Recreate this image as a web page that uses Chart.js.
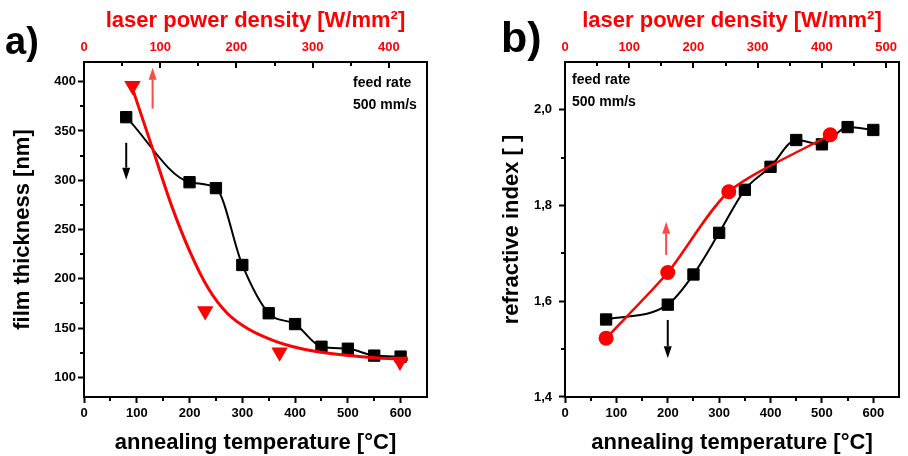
<!DOCTYPE html>
<html>
<head>
<meta charset="utf-8">
<script src="https://cdn.jsdelivr.net/npm/chart.js@4.4.1/dist/chart.umd.min.js"></script>
<style>
  body { margin: 0; background: #fff; }
  #wrap { position: relative; width: 908px; height: 456px; }
  canvas { position: absolute; top: 0; }
  #chartA { left: 0; }
  #chartB { left: 454px; }
</style>
</head>
<body>
<div id="wrap">
  <canvas id="chartA" width="454" height="456"></canvas>
  <canvas id="chartB" width="454" height="456"></canvas>
</div>
<script>
// panel a) film thickness
const tempA = [80, 200, 250, 300, 350, 400, 450, 500, 550, 600];
const thickness = [364, 298, 292, 214, 165, 154, 131, 129, 122, 121];
const powerA = [63.6, 159, 256.6, 414.5];
const thicknessLaser = [395.8, 167.3, 125.5, 116];
// red fit curve
const fitPowerA = [63.2, 89.5, 115.8, 139.5, 163.2, 188.2, 214.5, 248.7, 284.2, 323.7, 376.3, 425];
const fitThickA = [394, 333.1, 272.2, 226.6, 190.1, 164.7, 149.5, 137.3, 129.2, 124.1, 120.1, 118.1];

// panel b) refractive index
const tempB = [80, 200, 250, 300, 350, 400, 450, 500, 550, 600];
const refIndex = [1.562, 1.593, 1.656, 1.743, 1.833, 1.881, 1.937, 1.928, 1.964, 1.958];
const powerB = [64, 160, 255, 413];
const refIndexLaser = [1.523, 1.66, 1.829, 1.948];

const noteLines = ["feed rate", "500 mm/s"];
const xTitle = "annealing temperature [°C]";
const topTitle = "laser power density [W/mm²]";

const RED = "#ff0000";
const tickFont = { family: "Liberation Sans", size: 13, weight: "bold" };
const titleFont = { family: "Liberation Sans", size: 22, weight: "bold" };

function toXY(xs, ys) {
  return xs.map((x, i) => ({ x: x, y: ys[i] }));
}

function drawArrow(ctx, x, y0, y1, color) {
  const dir = Math.sign(y1 - y0);
  const head = 12, half = 4;
  ctx.strokeStyle = color;
  ctx.fillStyle = color;
  ctx.lineWidth = 2;
  ctx.beginPath();
  ctx.moveTo(x, y0);
  ctx.lineTo(x, y1 - dir * head);
  ctx.stroke();
  ctx.beginPath();
  ctx.moveTo(x, y1);
  ctx.lineTo(x - half, y1 - dir * head);
  ctx.lineTo(x + half, y1 - dir * head);
  ctx.closePath();
  ctx.fill();
}

// minor ticks, inward top ticks, frame, arrows and notes
const frameTicks = {
  id: "frameTicks",
  afterDraw(chart, args, o) {
    const { ctx, chartArea: a, scales } = chart;
    ctx.save();
    ctx.strokeStyle = "#000";
    ctx.lineWidth = 2;

    const line = (x0, y0, x1, y1) => {
      ctx.beginPath(); ctx.moveTo(x0, y0); ctx.lineTo(x1, y1); ctx.stroke();
    };
    const each = (scale, step, fn) => {
      const start = Math.ceil(scale.min / step - 1e-9) * step;
      for (let v = start; v <= scale.max + 1e-9; v += step) {
        const val = Math.round(v * 1000) / 1000;
        if (val <= scale.min || val >= scale.max) continue;
        const major = scale.ticks.some(t => Math.abs(t.value - val) < 1e-6);
        fn(Math.round(scale.getPixelForValue(val)), major);
      }
    };

    each(scales.x, o.xMinor, (p, major) => { if (!major) line(p, a.bottom, p, a.bottom + 4); });
    each(scales.y, o.yMinor, (p, major) => { if (!major) line(a.left, p, a.left - 4, p); });
    each(scales.x2, o.topMinor, (p, major) => line(p, a.top, p, a.top + (major ? 6 : 4)));

    ctx.strokeRect(a.left, a.top, a.right - a.left, a.bottom - a.top);

    o.arrows.forEach(ar => {
      const x = scales[ar.axis].getPixelForValue(ar.x);
      drawArrow(ctx, x, scales.y.getPixelForValue(ar.y0), scales.y.getPixelForValue(ar.y1), ar.color);
    });

    ctx.fillStyle = "#000";
    ctx.textBaseline = "middle";
    ctx.font = 'bold 14px "Liberation Sans"';
    noteLines.forEach((t, i) => ctx.fillText(t, o.noteX, o.noteY[i]));

    ctx.textBaseline = "alphabetic";
    ctx.font = 'bold ' + o.panelSize + 'px "Liberation Sans"';
    ctx.fillText(o.panel, o.panelX, o.panelY);
    ctx.restore();
  }
};

function axes(cfg) {
  const grid = { display: true, drawOnChartArea: false, drawTicks: true, tickLength: 6, tickWidth: 2, tickColor: "#000" };
  return {
    x: {
      type: "linear", position: "bottom", min: 0, max: 650,
      ticks: { stepSize: 100, includeBounds: false, autoSkip: false, maxRotation: 0, padding: 3, color: "#000", font: tickFont },
      grid: grid,
      border: { display: false },
      title: { display: true, text: xTitle, color: "#000", font: titleFont, padding: { top: 0, bottom: 0 } },
      afterFit: s => { s.height = 59; }
    },
    x2: {
      type: "linear", position: "top", min: 0, max: cfg.topMax,
      ticks: { stepSize: 100, includeBounds: false, autoSkip: false, maxRotation: 0, padding: 7, color: RED, font: tickFont },
      grid: { display: false, drawTicks: false },
      border: { display: false },
      title: { display: true, text: topTitle, color: RED, font: titleFont, padding: { top: 8, bottom: 0 } },
      afterFit: s => { s.height = 62; }
    },
    y: {
      type: "linear", position: "left", min: cfg.yMin, max: cfg.yMax,
      ticks: { stepSize: cfg.yStep, includeBounds: false, autoSkip: false, padding: cfg.yPad, color: "#000", font: tickFont, callback: cfg.yFmt },
      grid: grid,
      border: { display: false },
      title: { display: true, text: cfg.yTitle, color: "#000", font: titleFont, padding: { top: cfg.yTitlePad, bottom: 0 } },
      afterFit: s => { s.width = cfg.yWidth; }
    }
  };
}

const chartA = new Chart(document.getElementById("chartA"), {
  type: "scatter",
  data: {
    datasets: [
      {
        data: toXY(powerA, thicknessLaser), xAxisID: "x2", yAxisID: "y", showLine: false,
        pointStyle: "triangle", pointRotation: 180, pointRadius: 9.5,
        pointBackgroundColor: RED, pointBorderColor: RED, pointBorderWidth: 0, order: 0
      },
      {
        data: toXY(fitPowerA, fitThickA), xAxisID: "x2", yAxisID: "y", showLine: true,
        borderColor: RED, borderWidth: 3, pointRadius: 0, cubicInterpolationMode: "monotone", order: 1
      },
      {
        data: toXY(tempA, thickness), xAxisID: "x", yAxisID: "y", showLine: true,
        borderColor: "#000", borderWidth: 2, cubicInterpolationMode: "monotone",
        pointStyle: "rect", pointRadius: 8, pointBackgroundColor: "#000", pointBorderColor: "#000", pointBorderWidth: 1, order: 2
      }
    ]
  },
  options: {
    responsive: false, animation: false, events: [],
    layout: { padding: { left: 0, right: 27, top: 0, bottom: 0 } },
    scales: axes({ topMax: 450, yMin: 80, yMax: 420, yStep: 50, yPad: 2, yTitle: "film thickness [nm]", yTitlePad: 10, yWidth: 84, yFmt: v => v }),
    plugins: {
      legend: { display: false }, tooltip: { enabled: false },
      frameTicks: {
        xMinor: 50, yMinor: 25, topMinor: 50,
        arrows: [
          { axis: "x2", x: 90, y0: 372.6, y1: 414.2, color: "#ff4a4a" },
          { axis: "x", x: 80, y0: 338, y1: 300.6, color: "#000" }
        ],
        noteX: 353, noteY: [83, 105],
        panel: "a)", panelX: 5, panelY: 54, panelSize: 38
      }
    }
  },
  plugins: [frameTicks]
});

const chartB = new Chart(document.getElementById("chartB"), {
  type: "scatter",
  data: {
    datasets: [
      {
        data: toXY(powerB, refIndexLaser), xAxisID: "x2", yAxisID: "y", showLine: true,
        borderColor: RED, borderWidth: 2.5, tension: 0.25,
        pointStyle: "circle", pointRadius: 7.5, pointBackgroundColor: RED, pointBorderColor: RED, pointBorderWidth: 0, order: 0
      },
      {
        data: toXY(tempB, refIndex), xAxisID: "x", yAxisID: "y", showLine: true,
        borderColor: "#000", borderWidth: 2, cubicInterpolationMode: "monotone",
        pointStyle: "rect", pointRadius: 8, pointBackgroundColor: "#000", pointBorderColor: "#000", pointBorderWidth: 1, order: 1
      }
    ]
  },
  options: {
    responsive: false, animation: false, events: [],
    layout: { padding: { left: 0, right: 2, top: 0, bottom: 0 } },
    scales: axes({ topMax: 520, yMin: 1.4, yMax: 2.1, yStep: 0.2, yPad: 7, yTitle: "refractive index [ ]", yTitlePad: 45, yWidth: 111,
      yFmt: v => v.toFixed(1).replace(".", ",") }),
    plugins: {
      legend: { display: false }, tooltip: { enabled: false },
      frameTicks: {
        xMinor: 50, yMinor: 0.1, topMinor: 50,
        arrows: [
          { axis: "x2", x: 157.5, y0: 1.697, y1: 1.766, color: "#ff4a4a" },
          { axis: "x", x: 200, y0: 1.561, y1: 1.481, color: "#000" }
        ],
        noteX: 118, noteY: [80, 102],
        panel: "b)", panelX: 47, panelY: 52, panelSize: 43
      }
    }
  },
  plugins: [frameTicks]
});
</script>
</body>
</html>
